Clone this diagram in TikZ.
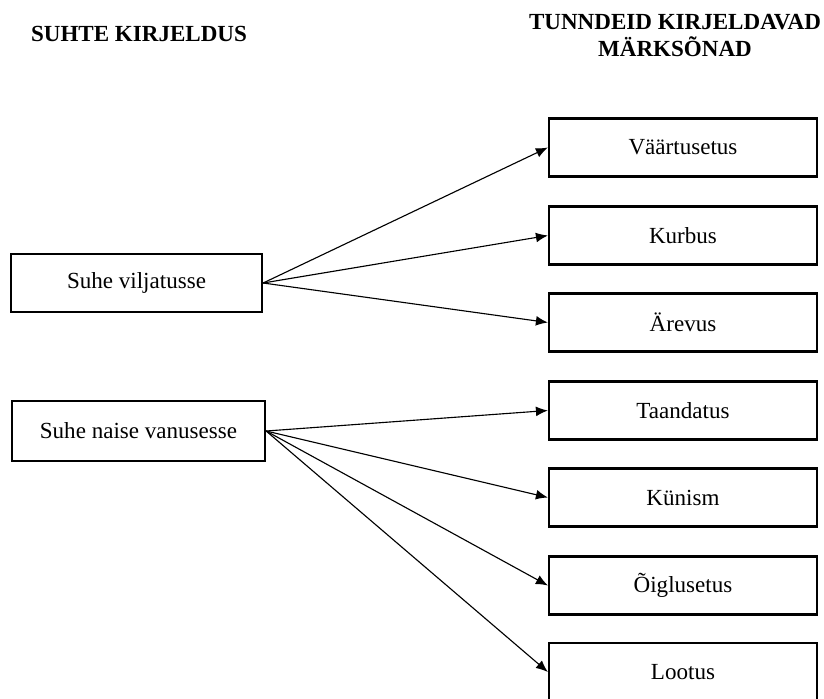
\documentclass[tikz,border=0pt]{standalone}
\usepackage{fontspec}
\setmainfont{Liberation Serif}
\usetikzlibrary{arrows.meta}

\begin{document}
\begin{tikzpicture}[
    scale=1,
    font=\fontsize{16.4}{19.2}\selectfont,
    >={Latex[length=8.5pt,width=7pt]},
    box/.style={draw, line width=1.6pt, inner sep=0pt, minimum height=1.45cm},
    keybox/.style={box, minimum width=6.7cm},
    link/.style={->, line width=0.8pt}]

    \useasboundingbox (0,0) rectangle (20.6,-17.45);

    % headings
    \node[font=\fontsize{16.4}{19.2}\selectfont\bfseries] (headleft) at (3.475,-0.85) {SUHTE KIRJELDUS};
    \node[font=\fontsize{16.4}{19.2}\selectfont\bfseries, align=center] (headright) at (16.875,-0.875)
        {TUNNDEID KIRJELDAVAD\\MÄRKSÕNAD};

    % relations
    \node[box, minimum width=6.275cm] (vilj) at (3.4125,-7.075) {Suhe viljatusse};
    \node[box, minimum width=6.325cm, minimum height=1.5cm] (vanus) at (3.4625,-10.775) {Suhe naise vanusesse};

    % keywords
    \node[keybox] (vaar) at (17.075,-3.6875) {Väärtusetus};
    \node[keybox] (kurb) at (17.075,-5.8875) {Kurbus};
    \node[keybox] (arev) at (17.075,-8.0625) {Ärevus};
    \node[keybox] (taan) at (17.075,-10.2625) {Taandatus};
    \node[keybox] (kyni) at (17.075,-12.4375) {Künism};
    \node[keybox] (oigl) at (17.075,-14.6375) {Õiglusetus};
    \node[keybox] (loot) at (17.075,-16.8) {Lootus};

    % links from viljatus
    \draw[link] (vilj.east) -- (vaar.west);
    \draw[link] (vilj.east) -- (kurb.west);
    \draw[link] (vilj.east) -- (arev.west);

    % links from vanus
    \draw[link] (vanus.east) -- (taan.west);
    \draw[link] (vanus.east) -- (kyni.west);
    \draw[link] (vanus.east) -- (oigl.west);
    \draw[link] (vanus.east) -- (loot.west);

\end{tikzpicture}
\end{document}
